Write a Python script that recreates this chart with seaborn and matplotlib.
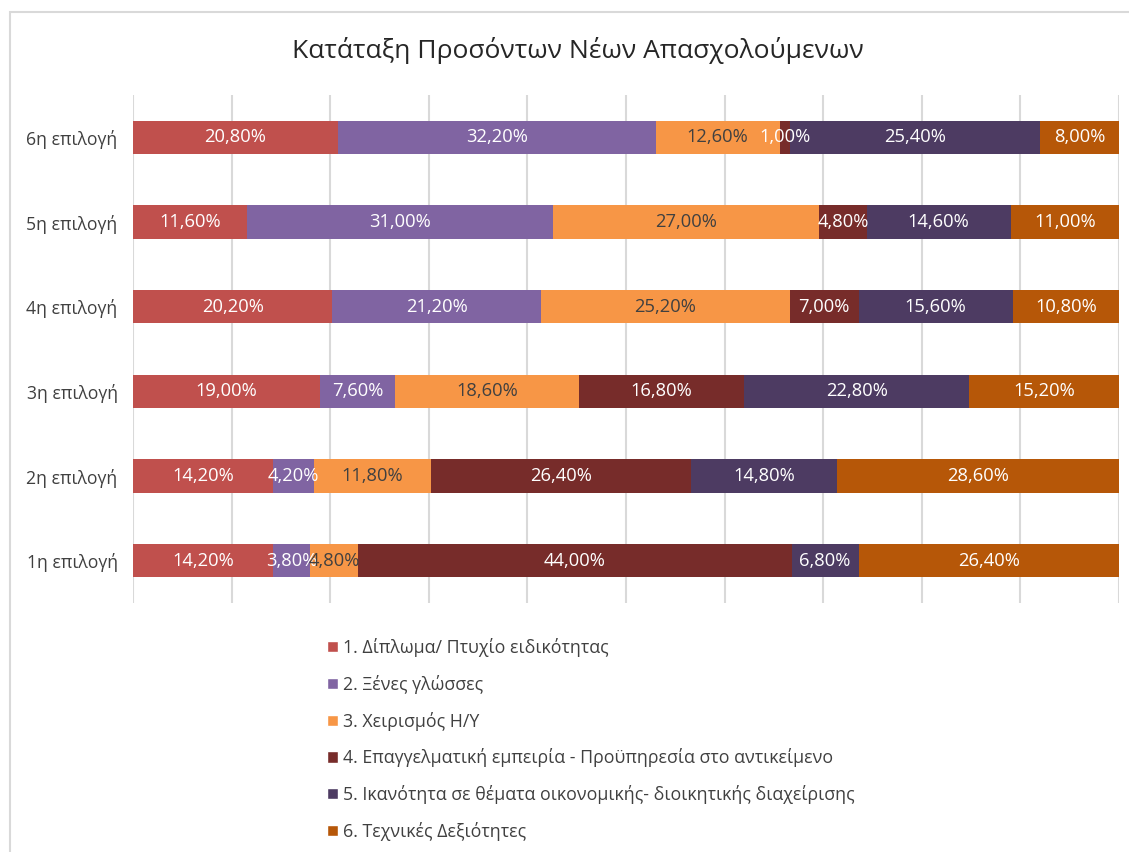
import numpy as np
import pandas as pd
import matplotlib.pyplot as plt
import seaborn as sb
from matplotlib.patches import Rectangle, Patch

choices = ['6η επιλογή', '5η επιλογή', '4η επιλογή', '3η επιλογή', '2η επιλογή', '1η επιλογή']
series_names = ['1. Δίπλωμα/ Πτυχίο ειδικότητας',
                '2. Ξένες γλώσσες',
                '3. Χειρισμός Η/Υ',
                '4. Επαγγελματική εμπειρία - Προϋπηρεσία στο αντικείμενο',
                '5. Ικανότητα σε θέματα οικονομικής- διοικητικής διαχείρισης',
                '6. Τεχνικές Δεξιότητες']
diploma = [20.8, 11.6, 20.2, 19.0, 14.2, 14.2]
languages = [32.2, 31.0, 21.2, 7.6, 4.2, 3.8]
computers = [12.6, 27.0, 25.2, 18.6, 11.8, 4.8]
experience = [1.0, 4.8, 7.0, 16.8, 26.4, 44.0]
management = [25.4, 14.6, 15.6, 22.8, 14.8, 6.8]
technical = [8.0, 11.0, 10.8, 15.2, 28.6, 26.4]

colors = ['#C0504D', '#8064A2', '#F79646', '#772C2A', '#4D3B62', '#B65708']
label_colors = ['white', 'white', '#404040', 'white', 'white', 'white']

sb.set_style('white')
plt.rcParams['font.family'] = ['Open Sans', 'DejaVu Sans']

values = np.array([diploma, languages, computers, experience, management, technical])
cum = np.cumsum(values, axis=0)

fig = plt.figure(figsize=(11.29, 8.52), dpi=100)
ax = fig.add_axes([133 / 1129, 1 - 603 / 852, (1119 - 133) / 1129, (603 - 95) / 852])

# outer chart border
fig.patches.append(Rectangle((10 / 1129, -0.1), 1.2, 1 - 12 / 852 + 0.1, transform=fig.transFigure,
                             fill=False, edgecolor='#D9D9D9', linewidth=1.5, zorder=0))

# stacked bars: draw cumulative totals from the largest down
for i in range(len(series_names) - 1, -1, -1):
    df = pd.DataFrame({'choice': choices, 'total': cum[i]})
    sb.barplot(data=df, x='total', y='choice', orient='h', color=colors[i], width=0.39,
               linewidth=0, saturation=1, ax=ax, zorder=3)

for i in range(len(series_names)):
    for j in range(len(choices)):
        center = cum[i, j] - values[i, j] / 2
        ax.text(center, j, f'{values[i, j]:.2f}%'.replace('.', ','), ha='center', va='center',
                color=label_colors[i], fontsize=13.2, zorder=5)

ax.set_xlim(0, 100)
ax.set_ylim(5.5, -0.5)
ax.set_xticks(np.arange(0, 101, 10))
ax.set_xticklabels([])
ax.grid(True, axis='x', color='#D9D9D9', linewidth=1.5, zorder=0)
ax.set_axisbelow(True)
ax.tick_params(axis='both', length=0)
ax.tick_params(axis='y', labelsize=12.7, labelcolor='#404040', pad=11)
ax.set_xlabel('')
ax.set_ylabel('')
for s in ax.spines.values():
    s.set_visible(False)

fig.text(578 / 1129, 1 - 50 / 852, 'Κατάταξη Προσόντων Νέων Απασχολούμενων', ha='center', va='center',
         fontsize=19, color='#262626')

handles = [Patch(facecolor=c, label=n) for c, n in zip(colors, series_names)]
fig.legend(handles=handles, loc='upper left', bbox_to_anchor=(311 / 1129, 1 - 622 / 852), frameon=False,
           fontsize=12.8, labelcolor='#404040', handlelength=0.6, handleheight=0.6, handletextpad=0.3,
           labelspacing=1.0)

fig.savefig('out.png', dpi=100)
